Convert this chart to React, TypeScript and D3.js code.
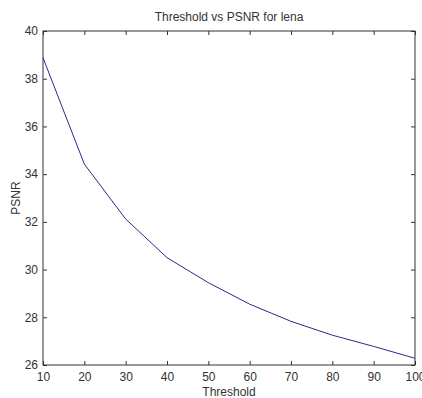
import React, { useRef, useEffect } from 'react';
import * as d3 from 'd3';

const thresholds = [10, 20, 30, 40, 50, 60, 70, 80, 90, 100];
const psnr = [38.88, 34.42, 32.12, 30.5, 29.45, 28.55, 27.83, 27.25, 26.78, 26.28];
const xTicks = [10, 20, 30, 40, 50, 60, 70, 80, 90, 100];
const yTicks = [26, 28, 30, 32, 34, 36, 38, 40];

const App = () => {
  const svgRef = useRef(null);
  const width = 422;
  const height = 398;
  const margin = { top: 31, right: 7, bottom: 33, left: 43 };

  useEffect(() => {
    const svg = d3.select(svgRef.current)
      .attr('width', width)
      .attr('height', height);
    svg.selectAll('*').remove();

    const font = 'Arial, "Liberation Sans", sans-serif';
    const ink = '#333';

    const x = d3.scaleLinear()
      .domain([10, 100])
      .range([margin.left, width - margin.right]);
    const y = d3.scaleLinear()
      .domain([26, 40])
      .range([height - margin.bottom, margin.top]);

    const x0 = margin.left, x1 = width - margin.right;
    const y0 = height - margin.bottom, y1 = margin.top;

    svg.append('rect')
      .attr('width', width)
      .attr('height', height)
      .attr('fill', '#fff');

    // bottom axis, ticks inward
    svg.append('g')
      .attr('transform', `translate(0,${y0})`)
      .call(d3.axisBottom(x).tickValues(xTicks).tickSize(-4).tickPadding(7).tickFormat(d3.format('d')))
      .call(g => g.select('.domain').remove())
      .call(g => g.selectAll('line').attr('stroke', ink))
      .call(g => g.selectAll('text').attr('fill', ink).attr('font-size', 12).attr('font-family', font));

    // top mirror ticks
    svg.append('g')
      .attr('transform', `translate(0,${y1})`)
      .call(d3.axisTop(x).tickValues(xTicks).tickSize(-4).tickFormat(() => ''))
      .call(g => g.select('.domain').remove())
      .call(g => g.selectAll('line').attr('stroke', ink));

    // left axis
    svg.append('g')
      .attr('transform', `translate(${x0},0)`)
      .call(d3.axisLeft(y).tickValues(yTicks).tickSize(-4).tickPadding(5).tickFormat(d3.format('d')))
      .call(g => g.select('.domain').remove())
      .call(g => g.selectAll('line').attr('stroke', ink))
      .call(g => g.selectAll('text').attr('fill', ink).attr('font-size', 12).attr('font-family', font));

    // right mirror ticks
    svg.append('g')
      .attr('transform', `translate(${x1},0)`)
      .call(d3.axisRight(y).tickValues(yTicks).tickSize(-4).tickFormat(() => ''))
      .call(g => g.select('.domain').remove())
      .call(g => g.selectAll('line').attr('stroke', ink));

    // box
    svg.append('rect')
      .attr('x', x0)
      .attr('y', y1)
      .attr('width', x1 - x0)
      .attr('height', y0 - y1)
      .attr('fill', 'none')
      .attr('stroke', ink)
      .attr('stroke-width', 1);

    const line = d3.line()
      .x((d, i) => x(thresholds[i]))
      .y(d => y(d));

    svg.append('path')
      .datum(psnr)
      .attr('fill', 'none')
      .attr('stroke', '#2b2b8c')
      .attr('stroke-width', 1)
      .attr('d', line);

    svg.append('text')
      .attr('x', (x0 + x1) / 2)
      .attr('y', 21)
      .attr('text-anchor', 'middle')
      .attr('font-size', 12)
      .attr('font-family', font)
      .attr('fill', ink)
      .text('Threshold vs PSNR for lena');

    svg.append('text')
      .attr('x', (x0 + x1) / 2)
      .attr('y', 396)
      .attr('text-anchor', 'middle')
      .attr('font-size', 12)
      .attr('font-family', font)
      .attr('fill', ink)
      .text('Threshold');

    svg.append('text')
      .attr('transform', `translate(20,${(y0 + y1) / 2}) rotate(-90)`)
      .attr('text-anchor', 'middle')
      .attr('font-size', 12)
      .attr('font-family', font)
      .attr('fill', ink)
      .text('PSNR');
  }, []);

  return <svg ref={svgRef} style={{ position: 'absolute', left: 0, top: 0 }}></svg>;
};

export default App;
